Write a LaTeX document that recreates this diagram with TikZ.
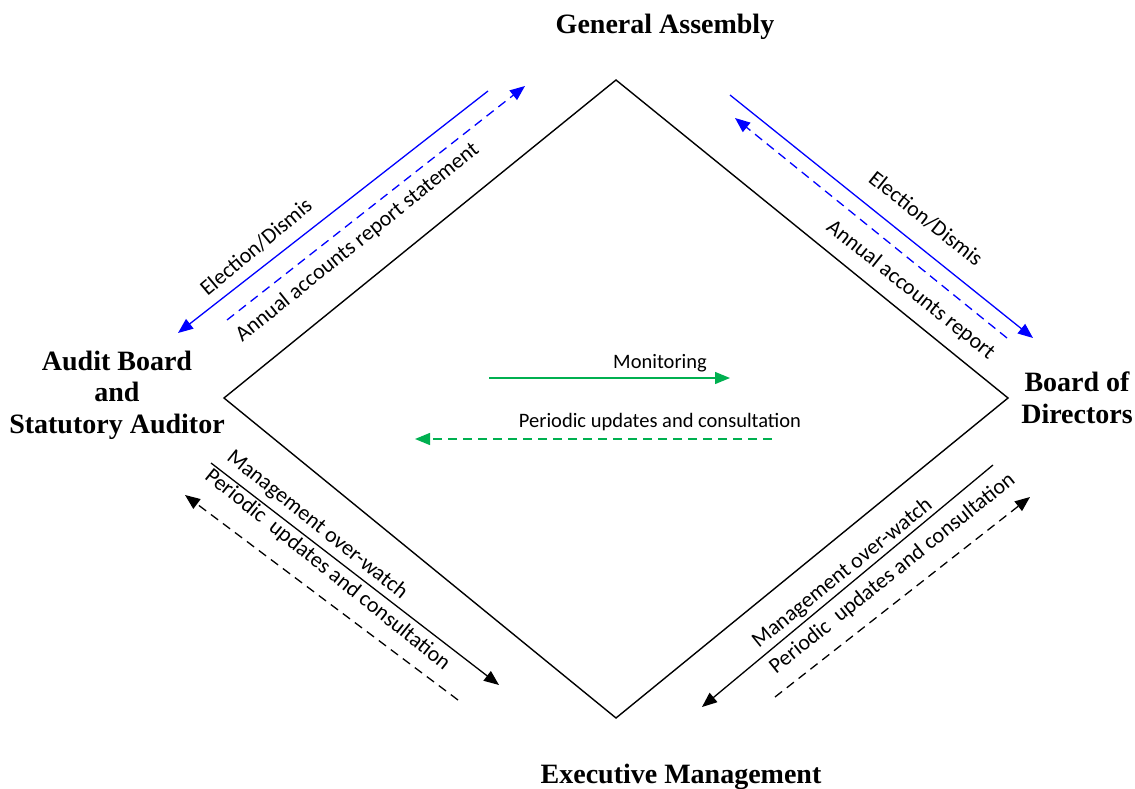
\documentclass[tikz,border=0pt]{standalone}
\usepackage{fontspec}
\setmainfont{Liberation Serif}
\newfontfamily\calfont{Carlito}
\usetikzlibrary{arrows.meta}
\definecolor{grn}{RGB}{0,176,80}
\begin{document}
\begin{tikzpicture}[x=1pt,y=-1pt,
  edge/.style={line width=1.4pt},
  con/.style={line width=1.3pt},
  tip/.style={-{Triangle[length=15pt,width=12pt]}},
  dsh/.style={dash pattern=on 9pt off 6pt},
  title/.style={font=\fontsize{28}{31.5}\selectfont\bfseries, align=center, inner sep=0pt},
  lab/.style={font=\calfont\fontsize{22}{26}\selectfont, inner sep=0pt},
  glab/.style={font=\calfont\fontsize{20.5}{24}\selectfont, inner sep=0pt, anchor=base}]
\useasboundingbox (0,0) rectangle (1135,789);
% diamond
\coordinate (T) at (616,80);
\coordinate (R) at (1008,398);
\coordinate (B) at (616,718);
\coordinate (L) at (224,398);
\draw[edge] (T) -- (R) -- (B) -- (L) -- cycle;
% titles
\node[title] (ga) at (665,27) {General Assembly};
\node[title] (ab) at (117,395) {Audit Board\\and\\Statutory Auditor};
\node[title] (bd) at (1077,398) {Board of\\Directors};
\node[title] (em) at (681,776.5) {Executive Management};
% arrow end points
\coordinate (tl1a) at (488,91);  \coordinate (tl1b) at (178,333);
\coordinate (tl2a) at (227,320); \coordinate (tl2b) at (525,86);
\coordinate (tr1a) at (730,95);  \coordinate (tr1b) at (1033,338);
\coordinate (tr2a) at (1007,338);\coordinate (tr2b) at (735,118);
\coordinate (bl1a) at (211,463); \coordinate (bl1b) at (499,685);
\coordinate (bl2a) at (458,700); \coordinate (bl2b) at (185,495);
\coordinate (br1a) at (993,465); \coordinate (br1b) at (702,707);
\coordinate (br2a) at (775,697); \coordinate (br2b) at (1030,497);
\coordinate (g1a) at (489,378);  \coordinate (g1b) at (730,378);
\coordinate (g2a) at (772,439);  \coordinate (g2b) at (415,439);
% blue arrows
\draw[con,blue,tip] (tl1a) -- (tl1b);
\draw[con,blue,tip,dsh] (tl2a) -- (tl2b);
\draw[con,blue,tip] (tr1a) -- (tr1b);
\draw[con,blue,tip,dsh] (tr2a) -- (tr2b);
% black arrows
\draw[con,tip] (bl1a) -- (bl1b);
\draw[con,tip,dsh] (bl2a) -- (bl2b);
\draw[con,tip] (br1a) -- (br1b);
\draw[con,tip,dsh] (br2a) -- (br2b);
% green arrows
\draw[con,grn,tip] (g1a) -- (g1b);
\draw[con,grn,tip,dsh] (g2a) -- (g2b);
% labels
\node[glab] (mon) at (660,368) {Monitoring};
\node[glab] (puc) at (660,427) {Periodic updates and consultation};
\node[lab,rotate=40] (tle) at (256,247) {Election/Dismis};
\node[lab,rotate=38.8] (tla) at (357.5,242.5) {Annual accounts report statement};
\node[lab,rotate=-38.5] (tre) at (926,218.5) {Election/Dismis};
\node[lab,rotate=-38.7] (tra) at (910.5,290) {Annual accounts report};
\node[lab,rotate=-38.7] (blm) at (317,525) {Management over-watch};
\node[lab,rotate=-38.8] (blp) at (327.5,570) {Periodic\ \ updates and consultation};
\node[lab,rotate=39] (brm) at (842.5,573.5) {Management over-watch};
\node[lab,rotate=38.7] (brp) at (892.5,573.5) {Periodic\ \ updates and consultation};
\end{tikzpicture}
\end{document}
